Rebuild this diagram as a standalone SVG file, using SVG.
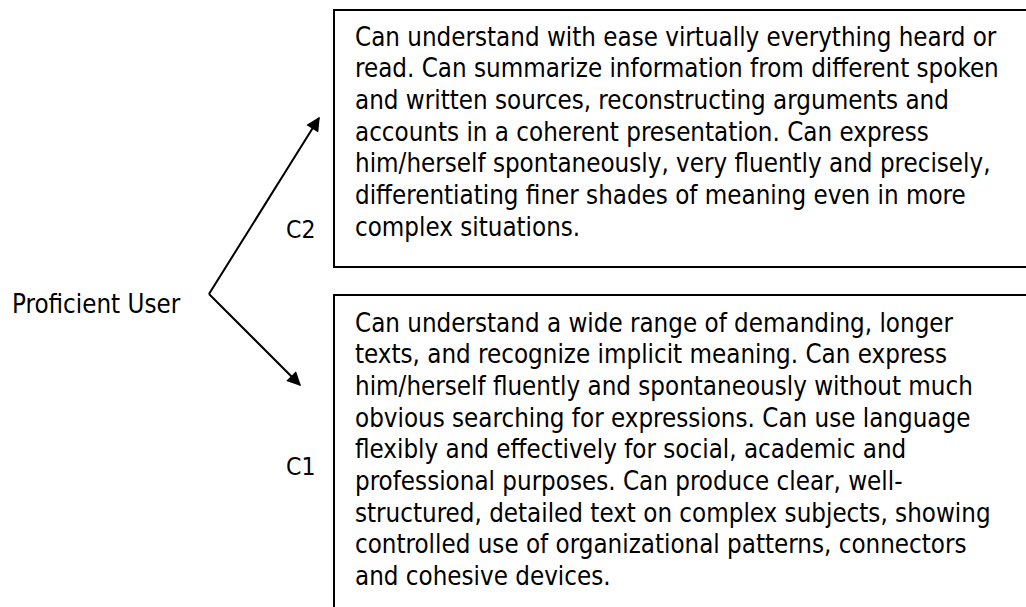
<svg xmlns="http://www.w3.org/2000/svg" width="1026" height="607" viewBox="0 0 1026 607">
  <style>
    .t { font-family: "DejaVu Sans Condensed", "DejaVu Sans", sans-serif; font-stretch: condensed; font-size: 25.7px; fill: #000; }
    .lbl { font-family: "DejaVu Sans Condensed", "DejaVu Sans", sans-serif; font-stretch: condensed; font-size: 24.5px; fill: #000; }
    .box { fill: #fff; stroke: #000; stroke-width: 2; }
    .edge { stroke: #000; stroke-width: 2; fill: none; marker-end: url(#head); }
  </style>
  <defs>
    <marker id="head" viewBox="0 0 10 10" refX="9" refY="5" markerWidth="8.5" markerHeight="7" markerUnits="strokeWidth" orient="auto">
      <path d="M0,0 L10,5 L0,10 z" fill="#000"/>
    </marker>
  </defs>
  <rect width="1026" height="607" fill="#fff"/>

  <g id="proficient-user">
    <text class="t" x="12" y="313">Proficient User</text>
  </g>

  <g id="connectors">
    <path class="edge" d="M209,294 L319,118"/>
    <path class="edge" d="M209,294 L300,385"/>
    <text class="lbl" x="286" y="238">C2</text>
    <text class="lbl" x="286" y="475">C1</text>
  </g>

  <g id="c2">
    <rect class="box" x="334" y="10" width="720" height="257"/>
    <text class="t">
      <tspan x="355" y="46">Can understand with ease virtually everything heard or</tspan>
      <tspan x="355" y="77">read. Can summarize information from different spoken</tspan>
      <tspan x="355" y="109">and written sources, reconstructing arguments and</tspan>
      <tspan x="355" y="141">accounts in a coherent presentation. Can express</tspan>
      <tspan x="355" y="172">him/herself spontaneously, very fluently and precisely,</tspan>
      <tspan x="355" y="204">differentiating finer shades of meaning even in more</tspan>
      <tspan x="355" y="236">complex situations.</tspan>
    </text>
  </g>

  <g id="c1">
    <rect class="box" x="334" y="295" width="720" height="330"/>
    <text class="t">
      <tspan x="355" y="332">Can understand a wide range of demanding, longer</tspan>
      <tspan x="355" y="363">texts, and recognize implicit meaning. Can express</tspan>
      <tspan x="355" y="395">him/herself fluently and spontaneously without much</tspan>
      <tspan x="355" y="427">obvious searching for expressions. Can use language</tspan>
      <tspan x="355" y="458">flexibly and effectively for social, academic and</tspan>
      <tspan x="355" y="490">professional purposes. Can produce clear, well-</tspan>
      <tspan x="355" y="522">structured, detailed text on complex subjects, showing</tspan>
      <tspan x="355" y="553">controlled use of organizational patterns, connectors</tspan>
      <tspan x="355" y="585">and cohesive devices.</tspan>
    </text>
  </g>
</svg>
